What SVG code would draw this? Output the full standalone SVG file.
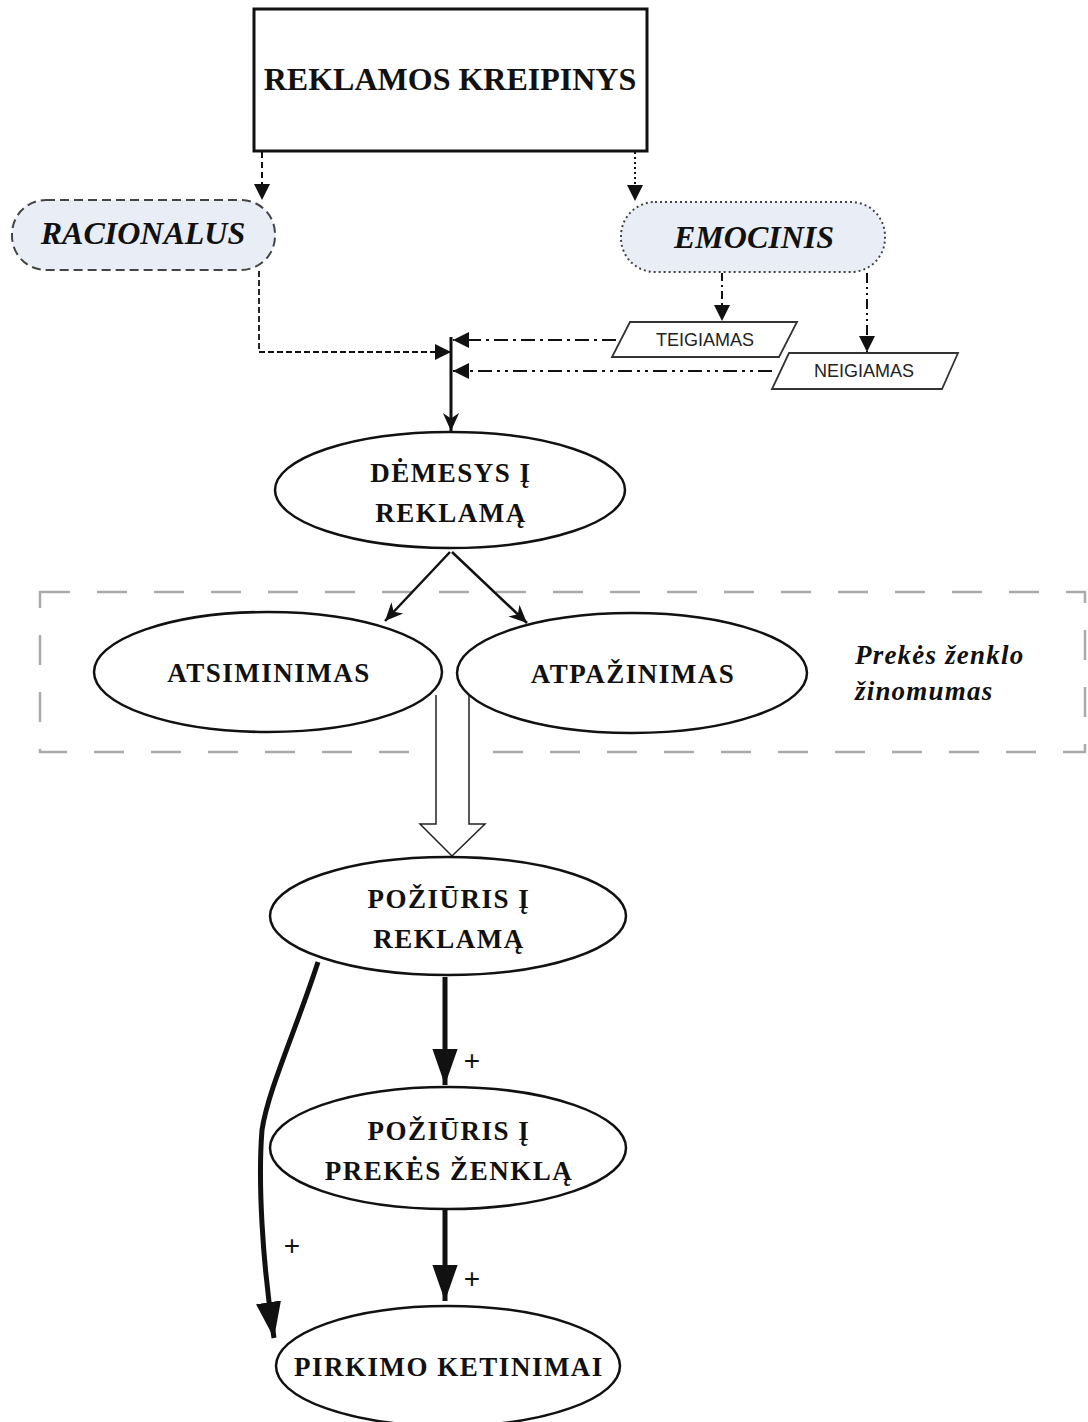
<svg xmlns="http://www.w3.org/2000/svg" width="1088" height="1422" viewBox="0 0 1088 1422">
  <style>
    .t { font-family: "Liberation Serif", "Times New Roman", serif; font-weight: bold; fill: #111; text-anchor: middle; font-size: 27px; letter-spacing: 1.5px; }
    .title { font-size: 32px; letter-spacing: 0; }
    .ti { font-family: "Liberation Serif", "Times New Roman", serif; font-weight: bold; font-style: italic; fill: #111; }
    .s { font-family: "Liberation Sans", Arial, sans-serif; fill: #222; text-anchor: middle; font-size: 18px; }
    .node { fill: #fff; stroke: #111; stroke-width: 2.5; }
    .soft { fill: #e8edf6; stroke: #444; stroke-width: 2; }
    .para { fill: #fff; stroke: #333; stroke-width: 1.8; }
    .c { fill: none; stroke: #111; }
    .plus { font-family: "Liberation Sans", Arial, sans-serif; font-size: 28px; fill: #111; text-anchor: middle; }
  </style>
  <defs>
    <marker id="ahm" viewBox="0 0 10 10" refX="10" refY="5" markerWidth="16" markerHeight="16" markerUnits="userSpaceOnUse" orient="auto">
      <path d="M0,0 L10,5 L0,10 z" fill="#111"/>
    </marker>
    <marker id="ahs" viewBox="0 0 10 10" refX="10" refY="4.5" markerWidth="20" markerHeight="18" markerUnits="userSpaceOnUse" orient="auto">
      <path d="M0,0 L10,4.5 L0,9 L3,4.5 z" fill="#111"/>
    </marker>
    <marker id="ahb" viewBox="0 0 10 10" refX="10" refY="5" markerWidth="36" markerHeight="36" markerUnits="userSpaceOnUse" orient="auto">
      <path d="M0,1.5 L10,5 L0,8.5 z" fill="#111"/>
    </marker>
  </defs>

  <!-- brand awareness band -->
  <rect id="awareness-band" x="40" y="592" width="1045" height="160" fill="none" stroke="#aaa" stroke-width="2.5" stroke-dasharray="30,27"/>

  <g id="connectors">
    <!-- appeal splits -->
    <path class="c" d="M262,152 V200" stroke-width="2" stroke-dasharray="6,4" marker-end="url(#ahm)"/>
    <path class="c" d="M635,152 V201" stroke-width="2" stroke-dasharray="2,3" marker-end="url(#ahm)"/>
    <!-- emotional branches -->
    <path class="c" d="M722,273 V321" stroke-width="2" stroke-dasharray="8,4,2,4" marker-end="url(#ahm)"/>
    <path class="c" d="M867,273 V352" stroke-width="2" stroke-dasharray="10,4,2,4,2,4" marker-end="url(#ahm)"/>
    <!-- inputs into attention -->
    <path class="c" d="M259,271 V352 H451" stroke-width="1.8" stroke-dasharray="6,3" marker-end="url(#ahm)"/>
    <path class="c" d="M616,340 H453" stroke-width="1.8" stroke="#333" stroke-dasharray="14,5,3,5" marker-end="url(#ahm)"/>
    <path class="c" d="M772,371 H453" stroke-width="1.8" stroke="#333" stroke-dasharray="14,5,3,5,3,5" marker-end="url(#ahm)"/>
    <path class="c" d="M451,337 V431" stroke-width="3" marker-end="url(#ahs)"/>
    <!-- attention to recall / recognition -->
    <path class="c" d="M450,552 L385,621" stroke-width="2.5" marker-end="url(#ahs)"/>
    <path class="c" d="M452,552 L527,623" stroke-width="2.5" marker-end="url(#ahs)"/>
    <!-- hollow arrow into attitude toward ad -->
    <path d="M436,695 V824 H420 L452,856 L485,824 H469 V695" fill="#fff" stroke="#222" stroke-width="1.5"/>
    <!-- attitude links -->
    <path class="c" d="M445,977 V1085" stroke-width="5" marker-end="url(#ahb)"/>
    <path class="c" d="M445,1210 V1301" stroke-width="5" marker-end="url(#ahb)"/>
    <path class="c" d="M318,962 C296,1030 268,1090 262,1130 C258,1180 262,1260 274,1338" stroke-width="5" marker-end="url(#ahb)"/>
    <text class="plus" x="472" y="1070">+</text>
    <text class="plus" x="472" y="1288">+</text>
    <text class="plus" x="292" y="1255">+</text>
  </g>

  <g id="reklamos-kreipinys">
    <rect x="254" y="9" width="393" height="142" fill="#fff" stroke="#111" stroke-width="3"/>
    <text class="t title" x="450" y="90">REKLAMOS KREIPINYS</text>
  </g>

  <g id="racionalus">
    <rect class="soft" x="12" y="200" width="263" height="70" rx="34" stroke-dasharray="9,5"/>
    <text class="ti" x="143" y="244" font-size="32" text-anchor="middle">RACIONALUS</text>
  </g>

  <g id="emocinis">
    <rect class="soft" x="621" y="202" width="264" height="70" rx="34" stroke-dasharray="2,3"/>
    <text class="ti" x="754" y="248" font-size="32" text-anchor="middle">EMOCINIS</text>
  </g>

  <g id="teigiamas">
    <polygon class="para" points="630,322 797,322 779,357 612,357"/>
    <text class="s" x="705" y="346">TEIGIAMAS</text>
  </g>

  <g id="neigiamas">
    <polygon class="para" points="789,353 958,353 942,389 772,389"/>
    <text class="s" x="864" y="377">NEIGIAMAS</text>
  </g>

  <g id="demesys">
    <ellipse class="node" cx="450" cy="490" rx="175" ry="58"/>
    <text class="t" x="451" y="482">DĖMESYS Į</text>
    <text class="t" x="451" y="522">REKLAMĄ</text>
  </g>

  <g id="atsiminimas">
    <ellipse class="node" cx="268" cy="672" rx="174" ry="60"/>
    <text class="t" x="269" y="682">ATSIMINIMAS</text>
  </g>

  <g id="atpazinimas">
    <ellipse class="node" cx="632" cy="673" rx="175" ry="60"/>
    <text class="t" x="633" y="683">ATPAŽINIMAS</text>
  </g>

  <g id="zinomumas-label">
    <text class="ti" x="855" y="664" font-size="27" letter-spacing="1.2">Prekės ženklo</text>
    <text class="ti" x="855" y="700" font-size="27" letter-spacing="1.2">žinomumas</text>
  </g>

  <g id="poziuris-reklama">
    <ellipse class="node" cx="448" cy="916" rx="178" ry="59"/>
    <text class="t" x="449" y="908">POŽIŪRIS Į</text>
    <text class="t" x="449" y="948">REKLAMĄ</text>
  </g>

  <g id="poziuris-zenkla">
    <ellipse class="node" cx="448" cy="1148" rx="178" ry="61"/>
    <text class="t" x="449" y="1140">POŽIŪRIS Į</text>
    <text class="t" x="449" y="1180">PREKĖS ŽENKLĄ</text>
  </g>

  <g id="pirkimo-ketinimai">
    <ellipse class="node" cx="448" cy="1366" rx="172" ry="60"/>
    <text class="t" x="449" y="1376">PIRKIMO KETINIMAI</text>
  </g>
</svg>
